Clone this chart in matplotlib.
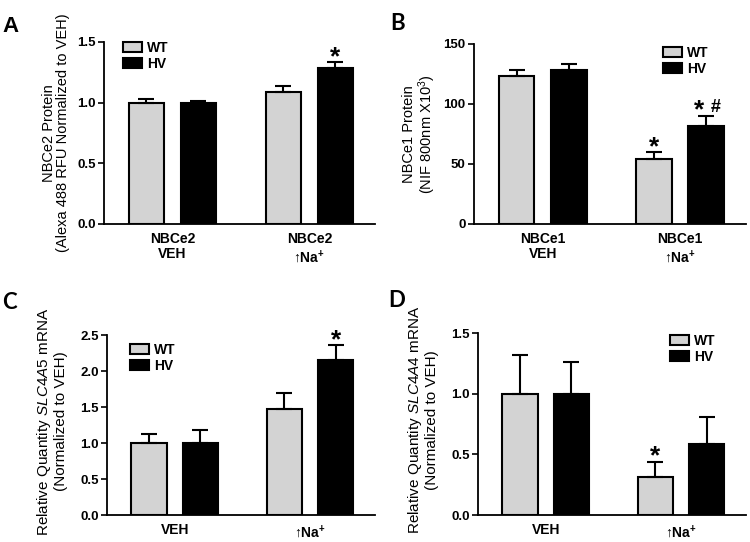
import matplotlib
matplotlib.use("Agg")
import matplotlib.pyplot as plt
from matplotlib.patches import Patch
import numpy as np

plt.rcParams['font.family'] = ['Liberation Sans', 'DejaVu Sans']
plt.rcParams['mathtext.fontset'] = 'custom'
plt.rcParams['mathtext.rm'] = 'Liberation Sans'
plt.rcParams['mathtext.it'] = 'Liberation Sans:italic'
plt.rcParams['mathtext.bf'] = 'Liberation Sans:bold'

# ---------------- data ----------------
groups_A = ["NBCe2\nVEH", "NBCe2\n↑Na$^{\\mathbf{+}}$"]
wt_A = [1.00, 1.09]
wt_A_err = [0.03, 0.045]
hv_A = [1.00, 1.285]
hv_A_err = [0.01, 0.05]

groups_B = ["NBCe1\nVEH", "NBCe1\n↑Na$^{\\mathbf{+}}$"]
wt_B = [123.6, 54.5]
wt_B_err = [4.5, 5.5]
hv_B = [128.6, 81.8]
hv_B_err = [4.7, 8.5]

groups_C = ["VEH", "↑Na$^{\\mathbf{+}}$"]
wt_C = [1.00, 1.47]
wt_C_err = [0.13, 0.23]
hv_C = [1.00, 2.15]
hv_C_err = [0.18, 0.21]

groups_D = ["VEH", "↑Na$^{\\mathbf{+}}$"]
wt_D = [1.00, 0.31]
wt_D_err = [0.32, 0.13]
hv_D = [1.00, 0.585]
hv_D_err = [0.265, 0.225]

series_names = ["WT", "HV"]
# significance markers: (group index, series index, text)
marks_A = [(1, 1, "*")]
marks_B = [(1, 0, "*"), (1, 1, "*#")]
marks_C = [(1, 1, "*")]
marks_D = [(1, 0, "*")]

# ---------------- layout ----------------
W, H = 750, 542
fig = plt.figure(figsize=(7.5, 5.42), dpi=100)

def ax_at(left, right, top, bottom):
    return fig.add_axes([left / W, 1 - bottom / H, (right - left) / W, (bottom - top) / H])

WT_COLOR = "#d3d3d3"
HV_COLOR = "#000000"

def panel(ax, groups, wt, wte, hv, hve, ylim, yticks, yticklabels, ylabel, marks,
          leg_xy, letter, letter_xy, letter_font, labelpad, ylab_size=10.5):
    x = np.arange(len(groups))
    off = 0.19
    w = 0.26
    ekw = dict(ecolor="black", elinewidth=1.5, capsize=6, capthick=1.5)
    ax.bar(x - off, wt, w, color=WT_COLOR, edgecolor="black", linewidth=1.5,
           yerr=[np.zeros(len(wt)), wte], error_kw=ekw, zorder=3)
    ax.bar(x + off, hv, w, color=HV_COLOR, edgecolor="black", linewidth=1.5,
           yerr=[np.zeros(len(hv)), hve], error_kw=ekw, zorder=3)
    ax.set_xlim(-0.5, 1.48)
    ax.set_ylim(*ylim)
    ax.set_yticks(yticks)
    ax.set_yticklabels(yticklabels, fontweight="bold", fontsize=9.5)
    ax.set_xticks(x)
    ax.set_xticklabels(groups, fontweight="bold", fontsize=10, linespacing=1.1)
    ax.tick_params(axis="x", length=0, pad=6)
    ax.tick_params(axis="y", length=4, width=1.2, pad=2, direction="out")
    for s in ["top", "right"]:
        ax.spines[s].set_visible(False)
    for s in ["left", "bottom"]:
        ax.spines[s].set_linewidth(1.3)
    ax.set_ylabel(ylabel, fontsize=ylab_size, labelpad=labelpad, linespacing=1.05)
    for gi, si, txt in marks:
        if si == 0:
            xx, top = x[gi] - off, wt[gi] + wte[gi]
        else:
            xx, top = x[gi] + off, hv[gi] + hve[gi]
        if txt == "*":
            ax.annotate("*", xy=(xx, top), xytext=(0, -1.5), textcoords="offset points",
                        ha="center", va="baseline", fontsize=19, fontweight="bold")
        else:
            ax.annotate("*", xy=(xx, top), xytext=(-5, -1.0), textcoords="offset points",
                        ha="center", va="baseline", fontsize=19, fontweight="bold")
            ax.annotate("#", xy=(xx, top), xytext=(6.5, 2.5), textcoords="offset points",
                        ha="center", va="baseline", fontsize=13, fontweight="bold")
    handles = [Patch(facecolor=WT_COLOR, edgecolor="black", linewidth=1.5),
               Patch(facecolor=HV_COLOR, edgecolor="black", linewidth=1.5)]
    ax.legend(handles, series_names, loc="upper left",
              bbox_to_anchor=(leg_xy[0] / W, 1 - leg_xy[1] / H),
              bbox_transform=fig.transFigure, frameon=False,
              prop=dict(weight="bold", size=10), handlelength=1.35,
              handleheight=0.75, handletextpad=0.4, labelspacing=0.15,
              borderpad=0, borderaxespad=0)
    fig.text(letter_xy[0] / W, 1 - letter_xy[1] / H, letter, fontsize=16,
             fontweight="bold", family=letter_font, ha="left", va="baseline")

axA = ax_at(104, 375, 42, 224)
panel(axA, groups_A, wt_A, wt_A_err, hv_A, hv_A_err, (0, 1.5),
      [0, 0.5, 1.0, 1.5], ["0.0", "0.5", "1.0", "1.5"],
      "NBCe2 Protein\n(Alexa 488 RFU Normalized to VEH)", marks_A,
      (123, 41), "A", (2, 32), ["Liberation Sans"], 5)

axB = ax_at(474, 746, 44, 224)
panel(axB, groups_B, wt_B, wt_B_err, hv_B, hv_B_err, (0, 150),
      [0, 50, 100, 150], ["0", "50", "100", "150"],
      "NBCe1 Protein\n(NIF 800nm X10$^{3}$)", marks_B,
      (663, 46), "B", (390, 30), ["Lato"], 4)

axC = ax_at(107, 375, 335, 515)
panel(axC, groups_C, wt_C, wt_C_err, hv_C, hv_C_err, (0, 2.5),
      [0, 0.5, 1.0, 1.5, 2.0, 2.5], ["0.0", "0.5", "1.0", "1.5", "2.0", "2.5"],
      "Relative Quantity $\\mathit{SLC4A5}$ mRNA\n(Normalized to VEH)", marks_C,
      (130, 343), "C", (2, 309), ["Lato"], 9, 11)

axD = ax_at(478, 746, 333, 515)
panel(axD, groups_D, wt_D, wt_D_err, hv_D, hv_D_err, (0, 1.5),
      [0, 0.5, 1.0, 1.5], ["0.0", "0.5", "1.0", "1.5"],
      "Relative Quantity $\\mathit{SLC4A4}$ mRNA\n(Normalized to VEH)", marks_D,
      (670, 334), "D", (388, 307), ["Lato"], 9, 11)

for a in (axC, axD):
    a.yaxis.label.set_y(0.52)

fig.savefig("out.png", dpi=100)
